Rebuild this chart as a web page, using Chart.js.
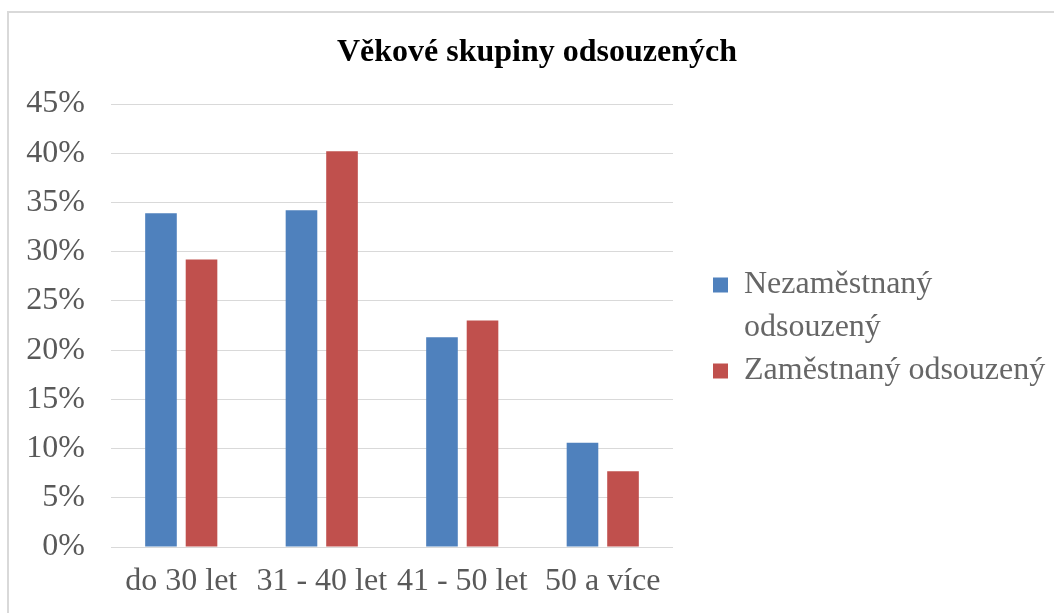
<!DOCTYPE html>
<html>
<head>
<meta charset="utf-8">
<script src="https://cdn.jsdelivr.net/npm/chart.js@4/dist/chart.umd.min.js"></script>
<style>
  html, body { margin: 0; padding: 0; background: #ffffff; }
  #wrap { position: relative; width: 1054px; height: 613px; overflow: hidden; }
  #frame { position: absolute; left: 7px; top: 11px; width: 1100px; height: 700px;
           border-left: 2px solid #d9d9d9; border-top: 2px solid #d9d9d9; }
  canvas { position: absolute; left: 0; top: 0; }
</style>
</head>
<body>
<div id="wrap">
  <div id="frame"></div>
  <canvas id="c" width="1054" height="613"></canvas>
</div>
<script>
const titleText = 'Věkové skupiny odsouzených';
const categories = ['do 30 let', '31 - 40 let', '41 - 50 let', '50 a více'];
const seriesNames = ['Nezaměstnaný odsouzený', 'Zaměstnaný odsouzený'];
const legendLines = [['Nezaměstnaný', 'odsouzený'], ['Zaměstnaný odsouzený']];
const unemployed = [33.9, 34.2, 21.3, 10.6];
const employed = [29.2, 40.2, 23.0, 7.7];
const yMin = 0, yMax = 45, yStep = 5;

const FONT = '"Liberation Serif", "Times New Roman", serif';
const colors = ['#4F81BD', '#C0504D'];

new Chart(document.getElementById('c'), {
  type: 'bar',
  data: {
    labels: categories,
    datasets: [
      { label: seriesNames[0], data: unemployed, backgroundColor: colors[0], borderWidth: 0 },
      { label: seriesNames[1], data: employed, backgroundColor: colors[1], borderWidth: 0 }
    ]
  },
  options: {
    responsive: false,
    animation: false,
    devicePixelRatio: 1,
    datasets: { bar: { categoryPercentage: 0.577, barPercentage: 0.78 } },
    layout: { padding: { left: 26, top: 34, right: 6, bottom: 14 } },
    plugins: {
      tooltip: { enabled: false },
      title: {
        display: true,
        text: titleText,
        color: '#000000',
        font: { family: FONT, size: 32, weight: 'bold', lineHeight: 1.2 },
        padding: { top: 0, bottom: 31.6 }
      },
      legend: {
        position: 'right',
        fullSize: false,
        maxWidth: 335,
        title: { display: true, text: ' ', font: { size: 1, lineHeight: 1 }, padding: { top: 0, bottom: 4 } },
        labels: {
          color: '#595959',
          font: { family: FONT, size: 32, lineHeight: 43 / 32 },
          boxWidth: 15,
          boxHeight: 15,
          padding: 0,
          generateLabels: (chart) => chart.data.datasets.map((ds, i) => ({
            text: legendLines[i].length > 1 ? legendLines[i] : legendLines[i][0],
            fillStyle: ds.backgroundColor,
            strokeStyle: ds.backgroundColor,
            lineWidth: 0,
            hidden: false,
            datasetIndex: i
          }))
        }
      }
    },
    scales: {
      x: {
        grid: { display: false, drawTicks: false },
        border: { display: false },
        ticks: {
          color: '#595959',
          font: { family: FONT, size: 32, lineHeight: 1.2 },
          padding: 15,
          maxRotation: 0,
          autoSkip: false
        },
        afterFit: (s) => { s.height = 52; }
      },
      y: {
        min: yMin,
        max: yMax,
        grid: { color: '#d9d9d9', lineWidth: 1, drawTicks: false },
        border: { display: false },
        ticks: {
          stepSize: yStep,
          color: '#595959',
          font: { family: FONT, size: 32 },
          padding: 26,
          callback: (v) => v + '%'
        },
        afterFit: (s) => { s.width = 85; }
      },
      y2: {
        type: 'linear',
        position: 'right',
        display: true,
        grid: { display: false, drawTicks: false },
        border: { display: false },
        ticks: { display: false },
        afterFit: (s) => { s.width = 40; }
      }
    }
  }
});
</script>
</body>
</html>
